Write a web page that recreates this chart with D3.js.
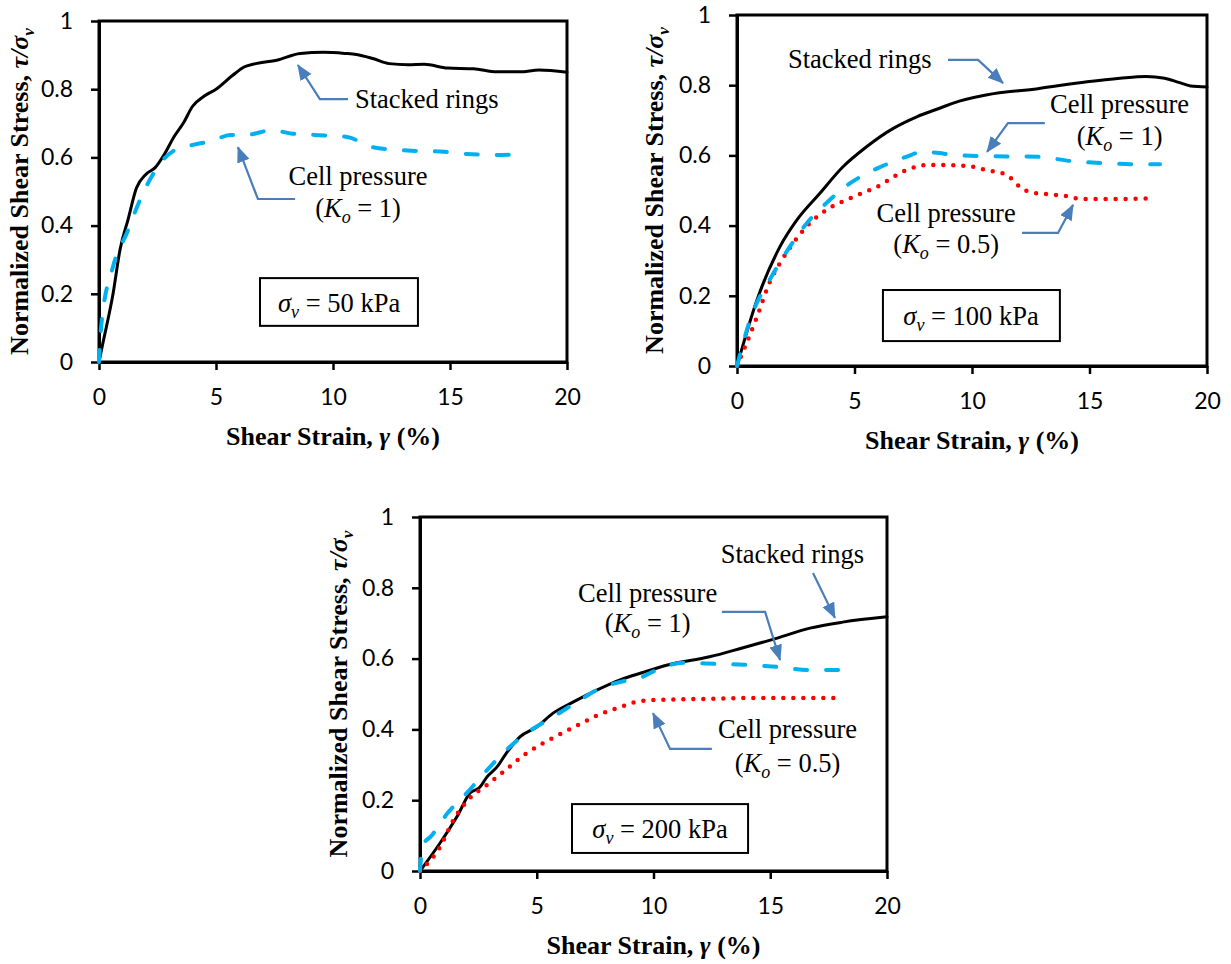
<!DOCTYPE html>
<html><head><meta charset="utf-8">
<script src="https://cdn.jsdelivr.net/npm/d3@7"></script>
<style>
body{margin:0;background:#fff}
.serif{font-family:"Liberation Serif","Times New Roman",Times,serif}
.sans{font-family:Lato,"Open Sans",sans-serif}
</style>
</head><body>
<svg id="c" width="1231" height="964"></svg>
<script>
// ---- data ----
const strainTicks = [0, 5, 10, 15, 20];
const stressTicks = [0, 0.2, 0.4, 0.6, 0.8, 1];
const xTitle = "Shear Strain, ";
const yTitle = "Normalized Shear Stress, ";

// sigma_v = 50 kPa
const rings50 = [[0,0],[0.15,0.05],[0.6,0.2],[0.9,0.33],[1.25,0.42],[1.6,0.51],[2.0,0.55],[2.4,0.57],[2.8,0.61],[3.2,0.66],[3.6,0.70],[4.0,0.75],[4.5,0.78],[5.0,0.80],[5.7,0.84],[6.2,0.865],[6.7,0.875],[7.6,0.885],[8.6,0.905],[9.6,0.908],[10.5,0.905],[11.0,0.902],[11.7,0.89],[12.4,0.875],[13.2,0.872],[13.9,0.873],[14.9,0.862],[16.0,0.86],[17.0,0.851],[18.0,0.851],[18.8,0.856],[20,0.85]];
const cellK1_50 = [[0,0],[0.1,0.11],[0.6,0.28],[1.2,0.38],[1.75,0.475],[2.3,0.55],[2.7,0.59],[3.2,0.62],[3.9,0.635],[4.9,0.65],[5.6,0.666],[6.3,0.666],[7.4,0.68],[8.2,0.67],[9.2,0.666],[10.6,0.66],[11.7,0.63],[13.2,0.62],[14.6,0.617],[15.7,0.61],[17.0,0.607],[18.0,0.61]];

// sigma_v = 100 kPa
const rings100 = [[0,0],[0.85,0.188],[1.83,0.34],[2.55,0.416],[3.5,0.49],[4.5,0.567],[5.5,0.624],[6.65,0.677],[7.65,0.71],[8.65,0.735],[9.2,0.749],[10.6,0.772],[12.8,0.79],[14.9,0.81],[16.3,0.82],[17.4,0.825],[18.2,0.82],[18.8,0.808],[19.3,0.798],[20,0.795]];
const cellK1_100 = [[0,0],[0.55,0.13],[1.55,0.264],[2.25,0.34],[2.97,0.407],[3.8,0.464],[4.8,0.52],[6.1,0.567],[7.2,0.596],[7.9,0.61],[8.6,0.607],[9.2,0.601],[10.6,0.598],[12.8,0.596],[14.2,0.584],[15.6,0.578],[17.0,0.575],[18.0,0.575]];
const cellK05_100 = [[0,0],[0.85,0.14],[1.4,0.24],[1.83,0.293],[2.55,0.364],[3.1,0.407],[3.8,0.444],[4.95,0.482],[5.95,0.51],[7.2,0.558],[8.2,0.573],[9.8,0.57],[10.6,0.558],[11.5,0.544],[11.8,0.525],[12.1,0.507],[12.5,0.495],[13.5,0.488],[14.2,0.482],[14.6,0.476],[16.3,0.476],[17.6,0.478]];

// sigma_v = 200 kPa
const rings200 = [[0,0],[0.86,0.079],[1.58,0.153],[2.14,0.22],[2.57,0.237],[2.87,0.266],[3.3,0.294],[3.7,0.333],[4.28,0.379],[5.0,0.407],[5.7,0.446],[6.55,0.477],[7.57,0.511],[8.57,0.54],[9.5,0.56],[10.6,0.582],[12.4,0.605],[13.8,0.63],[15.3,0.658],[16.7,0.686],[18.1,0.703],[20,0.718]];
const cellK1_200 = [[0,0],[0.1,0.07],[0.5,0.1],[1.14,0.16],[2.0,0.22],[2.87,0.285],[3.7,0.342],[4.57,0.39],[5.7,0.435],[6.85,0.483],[7.85,0.52],[8.57,0.534],[9.5,0.548],[10.3,0.573],[11.3,0.588],[12.7,0.585],[14.1,0.582],[15.4,0.576],[16.6,0.568],[18.0,0.568]];
const cellK05_200 = [[0,0],[0.86,0.068],[1.43,0.144],[2.14,0.206],[2.87,0.243],[3.57,0.28],[4.57,0.333],[5.7,0.376],[6.85,0.415],[7.6,0.44],[8.57,0.463],[9.1,0.475],[10.0,0.483],[12.0,0.486],[14.9,0.489],[17.9,0.489]];

const stressLevels = ["50", "100", "200"];

// ---- layout ----
const svg = d3.select("#c");
const ARROW = "#4a7ebb";

svg.append("defs").append("marker")
  .attr("id","ah").attr("markerUnits","userSpaceOnUse")
  .attr("markerWidth",18).attr("markerHeight",16)
  .attr("refX",15).attr("refY",6.5).attr("orient","auto")
  .append("path").attr("d","M0,0 L16,6.5 L0,13 Z").attr("fill",ARROW);

const styles = {
  solid: {stroke:"#000", width:3, dash:null, cap:"round"},
  dash: {stroke:"#00b0f0", width:4, dash:"12 19", cap:"round"},
  dot: {stroke:"#ff0000", width:4.5, dash:"0 10", cap:"round"}
};

const panels = [
  {l:99, r:567, t:21, b:362, yTitleX:28, level:stressLevels[0],
   series:[[rings50,"solid"],[cellK1_50,"dash"]],
   box:[6.88,13.63,0.246,0.106], boxText:[10.26,0.147],
   notes:[
     {lines:[{txt:"Stacked rings",x:10.94,y:0.745,anchor:"start"}], arrow:[[10.64,0.771],[9.44,0.771],[8.5,0.871]]},
     {lines:[{txt:"Cell pressure",x:11.07,y:0.519},{k:"1",x:11.07,y:0.425}], arrow:[[8.38,0.478],[6.79,0.478],[5.94,0.63]]}
   ]},
  {l:737, r:1207, t:15, b:366, yTitleX:663, level:stressLevels[1],
   series:[[rings100,"solid"],[cellK05_100,"dot"],[cellK1_100,"dash"]],
   box:[6.21,13.74,0.2165,0.071], boxText:[9.96,0.117],
   notes:[
     {lines:[{txt:"Stacked rings",x:2.17,y:0.849,anchor:"start"}], arrow:[[8.98,0.872],[10.26,0.872],[11.32,0.806]]},
     {lines:[{txt:"Cell pressure",x:16.28,y:0.721},{k:"1",x:16.28,y:0.63}], arrow:[[13.1,0.692],[11.53,0.692],[10.64,0.61]]},
     {lines:[{txt:"Cell pressure",x:8.9,y:0.41},{k:"0.5",x:8.9,y:0.322}], arrow:[[12.13,0.379],[13.66,0.379],[14.3,0.459]]}
   ]},
  {l:420, r:887, t:517, b:871, yTitleX:347, level:stressLevels[2],
   series:[[rings200,"solid"],[cellK05_200,"dot"],[cellK1_200,"dash"]],
   box:[6.51,14.05,0.189,0.051], boxText:[10.28,0.093],
   notes:[
     {lines:[{txt:"Stacked rings",x:15.95,y:0.87}], arrow:[[16.83,0.842],[17.77,0.715]]},
     {lines:[{txt:"Cell pressure",x:9.75,y:0.76},{k:"1",x:9.75,y:0.675}], arrow:[[12.93,0.732],[14.78,0.732],[15.42,0.596]]},
     {lines:[{txt:"Cell pressure",x:15.74,y:0.376},{k:"0.5",x:15.74,y:0.28}], arrow:[[12.5,0.345],[10.71,0.345],[9.98,0.446]]}
   ]}
];

function drawPanel(p) {
  const x = d3.scaleLinear().domain([0,20]).range([p.l,p.r]);
  const y = d3.scaleLinear().domain([0,1]).range([p.b,p.t]);
  const g = svg.append("g");

  // axes
  const ax = g.append("g").attr("transform",`translate(0,${p.b})`)
    .call(d3.axisBottom(x).tickValues(strainTicks).tickFormat(d=>String(d)).tickSize(8).tickSizeOuter(0).tickPadding(18.5));
  const ay = g.append("g").attr("transform",`translate(${p.l},0)`)
    .call(d3.axisLeft(y).tickValues(stressTicks).tickFormat(d=>String(d)).tickSize(8).tickSizeOuter(0).tickPadding(18));
  [ax,ay].forEach(a=>{
    a.attr("font-family",null);
    a.selectAll("path.domain").attr("stroke","#000").attr("stroke-width",3);
    a.selectAll(".tick line").attr("stroke","#000").attr("stroke-width",2.5);
    a.selectAll("text").attr("class","sans").attr("font-size",23).attr("fill","#000");
  });
  g.append("rect").attr("x",p.l).attr("y",p.t).attr("width",p.r-p.l).attr("height",p.b-p.t)
    .attr("fill","none").attr("stroke","#000").attr("stroke-width",3);

  // series
  const line = d3.line().x(d=>x(d[0])).y(d=>y(d[1])).curve(d3.curveMonotoneX);
  p.series.forEach(([data,type])=>{
    const s = styles[type];
    g.append("path").datum(data).attr("d",line).attr("fill","none")
      .attr("stroke",s.stroke).attr("stroke-width",s.width)
      .attr("stroke-dasharray",s.dash).attr("stroke-linecap",s.cap).attr("stroke-linejoin","round");
  });

  // axis titles
  const xt = g.append("text").attr("class","serif").attr("x",(p.l+p.r)/2).attr("y",p.b+83)
    .attr("text-anchor","middle").attr("font-weight","bold").attr("font-size",26);
  xt.append("tspan").text(xTitle);
  xt.append("tspan").attr("font-style","italic").text("γ");
  xt.append("tspan").text(" (%)");

  const yt = g.append("text").attr("class","serif").attr("transform",`translate(${p.yTitleX},${(p.t+p.b)/2}) rotate(-90)`)
    .attr("text-anchor","middle").attr("font-weight","bold").attr("font-size",26);
  yt.append("tspan").text(yTitle);
  yt.append("tspan").attr("font-style","italic").text("τ/σ");
  yt.append("tspan").attr("font-style","italic").attr("font-size",17).attr("dy",6).text("v");

  // stress box
  const [bx0,bx1,by0,by1] = p.box;
  g.append("rect").attr("x",x(bx0)).attr("y",y(by0)).attr("width",x(bx1)-x(bx0)).attr("height",y(by1)-y(by0))
    .attr("fill","#fff").attr("stroke","#000").attr("stroke-width",2);
  const bt = g.append("text").attr("class","serif").attr("x",x(p.boxText[0])).attr("y",y(p.boxText[1]))
    .attr("text-anchor","middle").attr("font-size",26.5);
  bt.append("tspan").attr("font-style","italic").text("σ");
  bt.append("tspan").attr("font-style","italic").attr("font-size",18).attr("dy",6).text("v");
  bt.append("tspan").attr("dy",-6).text(" = " + p.level + " kPa");

  // annotations
  p.notes.forEach(n=>{
    n.lines.forEach(ln=>{
      const t = g.append("text").attr("class","serif").attr("x",x(ln.x)).attr("y",y(ln.y))
        .attr("text-anchor",ln.anchor||"middle").attr("font-size",26.5);
      if (ln.txt) t.text(ln.txt);
      else {
        t.append("tspan").text("(");
        t.append("tspan").attr("font-style","italic").text("K");
        t.append("tspan").attr("font-style","italic").attr("font-size",18).attr("dy",6).text("o");
        t.append("tspan").attr("dy",-6).text(" = " + ln.k + ")");
      }
    });
    g.append("path").datum(n.arrow)
      .attr("d",d3.line().x(d=>x(d[0])).y(d=>y(d[1])))
      .attr("fill","none").attr("stroke",ARROW).attr("stroke-width",2.2)
      .attr("marker-end","url(#ah)");
  });
}

panels.forEach(drawPanel);
</script>
</body></html>
